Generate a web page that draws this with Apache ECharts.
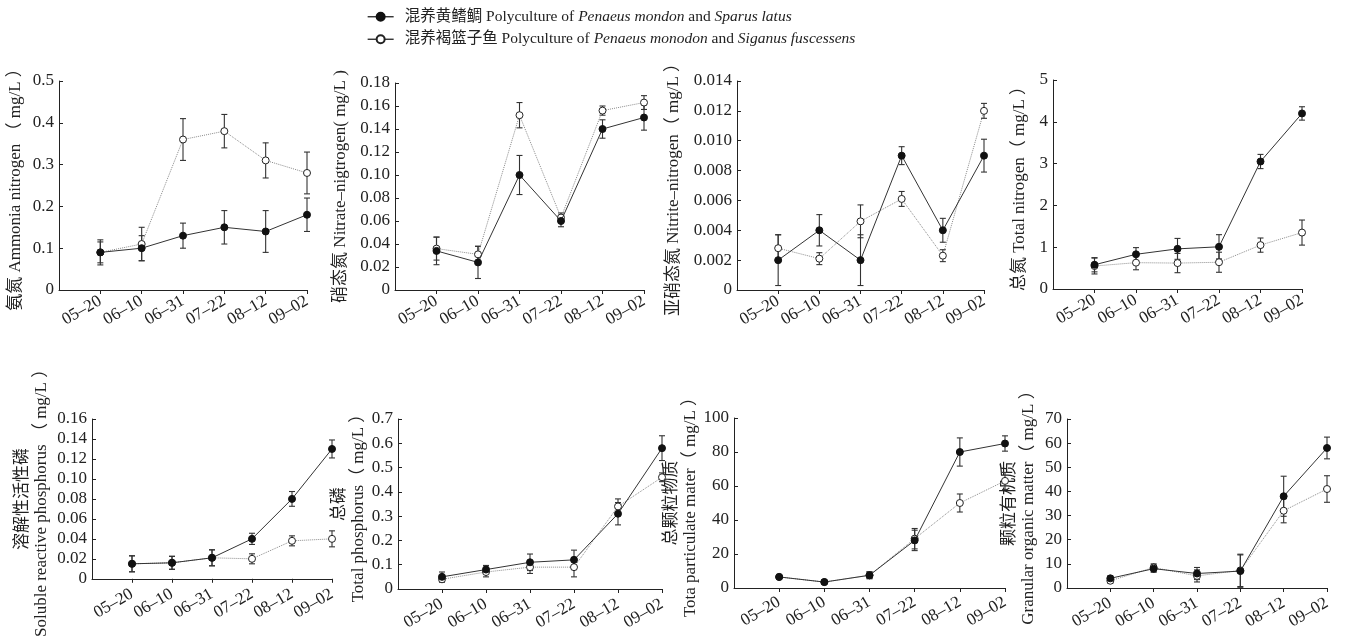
<!DOCTYPE html>
<html>
<head>
<meta charset="utf-8">
<script src="https://cdn.jsdelivr.net/npm/echarts@6/dist/echarts.min.js"></script>
<style>
  html, body { margin: 0; padding: 0; background: #fff; }
  #chart { width: 1349px; height: 639px; }
</style>
</head>
<body>
<div id="chart"></div>
<script>
const dates = ['05–20', '06–10', '06–31', '07–22', '08–12', '09–02'];

// A = 混养黄鳍鲷 (filled), B = 混养褐篮子鱼 (open)
const ammoniaA = [0.09, 0.10, 0.13, 0.15, 0.14, 0.18];
const ammoniaAErr = [0.025, 0.03, 0.03, 0.04, 0.05, 0.04];
const ammoniaB = [0.09, 0.11, 0.36, 0.38, 0.31, 0.28];
const ammoniaBErr = [0.03, 0.04, 0.05, 0.04, 0.042, 0.05];

const nitrateA = [0.034, 0.024, 0.100, 0.060, 0.140, 0.150];
const nitrateAErr = [0.012, 0.014, 0.017, 0.005, 0.008, 0.011];
const nitrateB = [0.036, 0.031, 0.152, 0.063, 0.156, 0.163];
const nitrateBErr = [0.010, 0.007, 0.011, 0.004, 0.004, 0.006];

const nitriteA = [0.002, 0.004, 0.002, 0.009, 0.004, 0.009];
const nitriteAErr = [0.0017, 0.00105, 0.0017, 0.0006, 0.0008, 0.0011];
const nitriteB = [0.0028, 0.0021, 0.0046, 0.0061, 0.0023, 0.012];
const nitriteBErr = [0.0009, 0.0004, 0.0011, 0.0005, 0.0004, 0.0005];

const totalNA = [0.58, 0.83, 0.96, 1.01, 3.05, 4.2];
const totalNAErr = [0.17, 0.16, 0.25, 0.29, 0.17, 0.16];
const totalNB = [0.55, 0.63, 0.62, 0.64, 1.05, 1.35];
const totalNBErr = [0.19, 0.17, 0.23, 0.24, 0.17, 0.30];

const srpA = [0.015, 0.016, 0.021, 0.040, 0.080, 0.130];
const srpAErr = [0.008, 0.0065, 0.008, 0.0056, 0.0074, 0.009];
const srpB = [0.015, 0.016, 0.021, 0.020, 0.038, 0.040];
const srpBErr = [0.008, 0.0065, 0.008, 0.005, 0.005, 0.008];

const totalPA = [0.05, 0.08, 0.11, 0.12, 0.31, 0.58];
const totalPAErr = [0.02, 0.017, 0.034, 0.04, 0.046, 0.051];
const totalPB = [0.04, 0.07, 0.09, 0.09, 0.34, 0.46];
const totalPBErr = [0.012, 0.02, 0.026, 0.04, 0.031, 0.018];

const tpmA = [6.5, 3.5, 7.5, 28, 80, 85];
const tpmAErr = [0.6, 1, 2, 6, 8.3, 4.5];
const tpmB = [6.5, 3.5, 7.5, 29, 50, 63];
const tpmBErr = [0.6, 1, 2, 6, 5.3, 5];

const gomA = [4, 8, 6, 7, 38, 58];
const gomAErr = [1, 1.5, 2.5, 6.7, 8.3, 4.5];
const gomB = [3, 8.5, 5, 7.3, 32, 41];
const gomBErr = [1, 1.5, 2.5, 6.7, 5, 5.5];

const nameA = '混养黄鳍鲷';
const nameB = '混养褐篮子鱼';

const serif = "'Liberation Serif', 'Noto Sans CJK SC', serif";
const ink = '#222';

const panels = [
  { a: ammoniaA, aErr: ammoniaAErr, b: ammoniaB, bErr: ammoniaBErr, max: 0.5, step: 0.1, dec: 1,
    title: '氨氮 Ammonia nitrogen （ mg/L ）', gap: 34, labelGap: 10, grid: [59, 81, 248, 209] },
  { a: nitrateA, aErr: nitrateAErr, b: nitrateB, bErr: nitrateBErr, max: 0.18, step: 0.02, dec: 2,
    title: '硝态氮 Nitrate–nigtrogen( mg/L )', gap: 45, labelGap: 10, grid: [395, 83, 249, 207] },
  { a: nitriteA, aErr: nitriteAErr, b: nitriteB, bErr: nitriteBErr, max: 0.014, step: 0.002, dec: 3,
    title: '亚硝态氮 Nitrite–nitrogen（ mg/L ）', gap: 54, labelGap: 10, grid: [737, 81, 247, 209] },
  { a: totalNA, aErr: totalNAErr, b: totalNB, bErr: totalNBErr, max: 5, step: 1, dec: 0,
    title: '总氮 Total nitrogen（ mg/L ）', gap: 24, labelGap: 10, grid: [1053, 80, 249, 209] },
  { a: srpA, aErr: srpAErr, b: srpB, bErr: srpBErr, max: 0.16, step: 0.02, dec: 2,
    title: '溶解性活性磷\nSoluble reactive phosphorus （ mg/L ）', gap: 41, labelGap: 14, grid: [92, 419, 240, 172] },
  { a: totalPA, aErr: totalPAErr, b: totalPB, bErr: totalPBErr, max: 0.7, step: 0.1, dec: 1,
    title: '总磷\nTotal phosphorus（ mg/L ）', gap: 28, labelGap: 14, grid: [398, 419, 264, 170] },
  { a: tpmA, aErr: tpmAErr, b: tpmB, bErr: tpmBErr, max: 100, step: 20, dec: 0,
    title: '总颗粒物质\nTota particulate mater（ mg/L ）', gap: 32, labelGap: 13, grid: [734, 418, 271, 170] },
  { a: gomA, aErr: gomAErr, b: gomB, bErr: gomBErr, max: 70, step: 10, dec: 0,
    title: '颗粒有机质\nGranular organic matter（ mg/L ）', gap: 29, labelGap: 14, grid: [1067, 419, 260, 169] }
];

const positions = [1, 2, 3, 4, 5, 6];
const toPoints = (vals) => vals.map((v, k) => [positions[k], v]);

const errorBars = (idx, mean, err) => ({
  type: 'custom',
  xAxisIndex: idx,
  yAxisIndex: idx,
  silent: true,
  z: 1,
  data: mean.map((m, k) => [positions[k], m - err[k], m + err[k]]),
  renderItem: (params, api) => {
    const lo = api.coord([api.value(0), api.value(1)]);
    const hi = api.coord([api.value(0), api.value(2)]);
    const cap = 3;
    const style = { stroke: '#333', lineWidth: 1.1 };
    return {
      type: 'group',
      children: [
        { type: 'line', shape: { x1: lo[0], y1: lo[1], x2: hi[0], y2: hi[1] }, style },
        { type: 'line', shape: { x1: lo[0] - cap, y1: lo[1], x2: lo[0] + cap, y2: lo[1] }, style },
        { type: 'line', shape: { x1: hi[0] - cap, y1: hi[1], x2: hi[0] + cap, y2: hi[1] }, style }
      ]
    };
  }
});

const grid = [], xAxis = [], yAxis = [], series = [];

panels.forEach((p, i) => {
  grid.push({ left: p.grid[0], top: p.grid[1], width: p.grid[2], height: p.grid[3] });
  xAxis.push({
    type: 'value', gridIndex: i, min: 0, max: 6, interval: 1,
    axisLine: { lineStyle: { color: ink, width: 1 } },
    axisTick: { show: true, inside: false, length: 4, customValues: positions, lineStyle: { color: ink } },
    axisLabel: {
      customValues: positions,
      formatter: (v) => dates[v - 1] || '',
      rotate: 30, margin: p.labelGap, fontFamily: serif, fontSize: 17, color: ink
    },
    splitLine: { show: false }
  });
  yAxis.push({
    type: 'value', gridIndex: i, min: 0, max: p.max, interval: p.step,
    name: p.title, nameLocation: 'middle', nameRotate: 90, nameGap: p.gap,
    nameTextStyle: { fontFamily: serif, fontSize: 17, lineHeight: 19, color: ink },
    axisLine: { show: true, lineStyle: { color: ink, width: 1 } },
    axisTick: { show: true, inside: true, length: 4, lineStyle: { color: ink } },
    axisLabel: {
      formatter: (v) => (v === 0 ? '0' : v.toFixed(p.dec)),
      margin: 5, fontFamily: serif, fontSize: 17, color: ink
    },
    splitLine: { show: false }
  });
  series.push(errorBars(i, p.a, p.aErr));
  series.push(errorBars(i, p.b, p.bErr));
  series.push({
    name: nameB, type: 'line', xAxisIndex: i, yAxisIndex: i, z: 3,
    data: toPoints(p.b), symbol: 'circle', symbolSize: 7,
    itemStyle: { color: '#fff', borderColor: '#222', borderWidth: 1 },
    lineStyle: { color: '#8a8a8a', width: 1, type: 'dotted' }
  });
  series.push({
    name: nameA, type: 'line', xAxisIndex: i, yAxisIndex: i, z: 4,
    data: toPoints(p.a), symbol: 'circle', symbolSize: 7,
    itemStyle: { color: '#111', borderColor: '#111', borderWidth: 1 },
    lineStyle: { color: '#333', width: 1, type: 'solid' }
  });
});

const legendText = {
  [nameA]: '混养黄鳍鲷 Polyculture of {i|Penaeus mondon} and {i|Sparus latus}',
  [nameB]: '混养褐篮子鱼 Polyculture of {i|Penaeus monodon} and {i|Siganus fuscessens}'
};

const chart = echarts.init(document.getElementById('chart'));
chart.setOption({
  animation: false,
  legend: {
    data: [nameA, nameB],
    orient: 'vertical',
    left: 362, top: 4,
    itemWidth: 26, itemHeight: 10, itemGap: 7,
    lineStyle: { color: '#222', type: 'solid', width: 1.3 },
    formatter: (name) => legendText[name],
    textStyle: {
      fontFamily: serif, fontSize: 15.5, color: ink, padding: [0, 0, 0, 6],
      rich: { i: { fontFamily: serif, fontSize: 15.5, fontStyle: 'italic', color: ink } }
    }
  },
  grid, xAxis, yAxis, series
});
</script>
</body>
</html>
